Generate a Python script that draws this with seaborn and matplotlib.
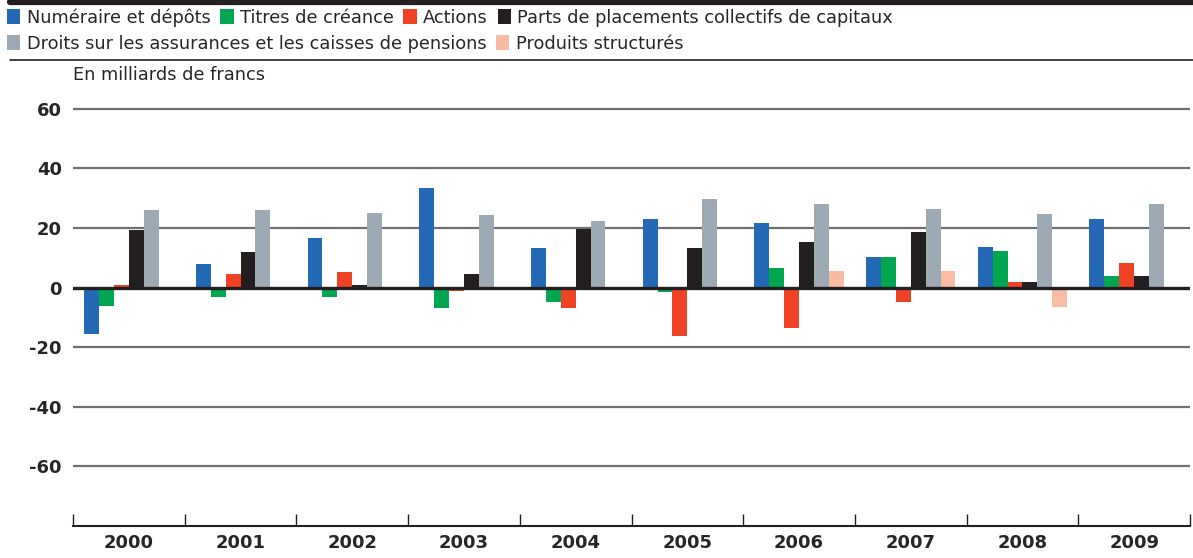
import numpy as np
import pandas as pd
import matplotlib
matplotlib.use("Agg")
import matplotlib.pyplot as plt
import seaborn as sns
from matplotlib.patches import Patch
from matplotlib.lines import Line2D

years = ["2000", "2001", "2002", "2003", "2004", "2005", "2006", "2007", "2008", "2009"]
categories = [
    "Numéraire et dépôts",
    "Titres de créance",
    "Actions",
    "Parts de placements collectifs de capitaux",
    "Droits sur les assurances et les caisses de pensions",
    "Produits structurés",
]
numeraire = [-15.7, 7.8, 16.5, 33.4, 13.1, 22.9, 21.6, 10.1, 13.5, 22.9]
titres = [-6.3, -3.3, -3.3, -7.0, -4.9, -1.6, 6.7, 10.1, 12.1, 4.0]
actions = [1.0, 4.4, 5.1, -1.3, -7.0, -16.1, -13.7, -4.9, 2.0, 8.1]
parts = [19.2, 11.8, 1.0, 4.7, 19.6, 13.1, 15.2, 18.5, 1.7, 4.0]
droits = [26.0, 26.0, 24.9, 24.3, 22.2, 29.7, 28.0, 26.3, 24.6, 28.0]
produits = [0.0, 0.0, 0.0, 0.0, 0.0, 0.0, 5.4, 5.4, -6.6, -0.5]
colors = ["#2369b5", "#00a650", "#ef4123", "#231f20", "#9eaab3", "#f9bca2"]

series = [numeraire, titres, actions, parts, droits, produits]
rows = []
for cat, vals in zip(categories, series):
    for y, v in zip(years, vals):
        rows.append({"annee": y, "categorie": cat, "valeur": v})
df = pd.DataFrame(rows)

sns.set_style("white")
plt.rcParams["font.family"] = ["DejaVu Sans"]

fig = plt.figure(figsize=(11.93, 5.58), dpi=100)
ax = fig.add_axes([0.0612, 0.0573, 0.9363, 0.7907])

sns.barplot(data=df, x="annee", y="valeur", hue="categorie", hue_order=categories,
            palette=colors, width=0.8, gap=0, saturation=1, linewidth=0,
            edgecolor="none", legend=False, ax=ax)

ax.set_ylim(-80, 68)
ax.set_xlim(-0.5, 9.5)
for g in [-60, -40, -20, 20, 40, 60]:
    ax.axhline(g, color="#707070", lw=1.6, zorder=0)
ax.axhline(0, color="#231f20", lw=2.4, zorder=3)

for s in ["top", "right", "left"]:
    ax.spines[s].set_visible(False)
ax.spines["bottom"].set_color("#231f20")
ax.spines["bottom"].set_linewidth(1.5)

ax.set_yticks([-60, -40, -20, 0, 20, 40, 60])
ax.set_yticklabels(["-60", "-40", "-20", "0", "20", "40", "60"], fontweight="bold", fontsize=13)
ax.tick_params(axis="y", length=0, pad=8)

ax.set_xticks(np.arange(10))
ax.set_xticklabels(years, fontweight="bold", fontsize=13)
ax.tick_params(axis="x", which="major", length=0, pad=6)
ax.set_xticks(np.arange(-0.5, 10, 1), minor=True)
ax.tick_params(axis="x", which="minor", bottom=True, direction="in", length=9,
               width=1, color="#231f20")
ax.set_xlabel("")
ax.set_ylabel("")

fig.text(0.0612, 0.865, "En milliards de francs", fontsize=12.8, va="center", ha="left")

# bandes horizontales en haut
fig.add_artist(Line2D([0.0085, 1], [0.996, 0.996], color="#231f20", lw=4.5))
fig.add_artist(Line2D([0.0085, 1], [0.893, 0.893], color="#231f20", lw=1.2))

h = [Patch(facecolor=c, edgecolor="none") for c in colors]
kw = dict(frameon=False, fontsize=12.8, handlelength=0.75, handleheight=0.9,
          handletextpad=0.35, columnspacing=0.55, borderaxespad=0, borderpad=0)
fig.legend(h[:4], categories[:4], ncol=4, loc="upper left",
           bbox_to_anchor=(0.006, 0.985), **kw)
fig.legend(h[4:], categories[4:], ncol=2, loc="upper left",
           bbox_to_anchor=(0.006, 0.938), **kw)

fig.savefig("out.png", dpi=100)
